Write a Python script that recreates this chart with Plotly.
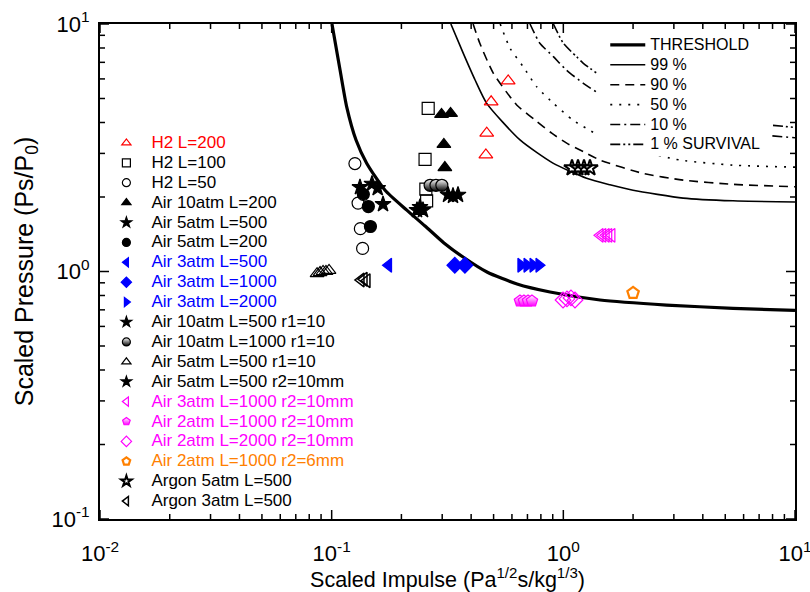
import plotly.graph_objects as go

# ---- survival / threshold curves (scaled impulse, scaled pressure) ----
thr_I = [0.1003, 0.1087, 0.1161, 0.1274, 0.1416, 0.170, 0.211, 0.253, 0.3053, 0.369, 0.468, 0.631, 0.876, 1.44, 2.79, 5.40, 10.0]
thr_P = [10.0, 6.52, 4.63, 3.40, 2.74, 2.13, 1.77, 1.527, 1.304, 1.144, 0.995, 0.890, 0.826, 0.767, 0.732, 0.710, 0.696]

s99_I = [0.327, 0.370, 0.416, 0.467, 0.650, 0.902, 1.26, 1.59, 2.0, 3.29, 5.40, 10.0]
s99_P = [10.0, 7.61, 5.94, 4.78, 3.40, 2.74, 2.38, 2.24, 2.13, 1.98, 1.93, 1.91]

s90_I = [0.408, 0.436, 0.499, 0.629, 0.755, 0.891, 1.034, 1.22, 1.44, 2.21, 3.29, 5.40, 10.0]
s90_P = [10.0, 8.36, 6.32, 4.71, 4.09, 3.62, 3.30, 3.05, 2.82, 2.49, 2.34, 2.25, 2.20]

s50_I = [0.534, 0.589, 0.671, 0.767, 0.906, 1.10, 1.22, 1.6, 2.2, 3.19, 5.40, 10.0]
s50_P = [10.0, 7.98, 6.72, 5.58, 4.78, 4.09, 3.85, 3.35, 3.05, 2.82, 2.69, 2.64]

s10_I = [0.718, 0.792, 0.906, 1.03, 1.22, 1.6, 2.2, 3.2, 5.4, 10.0]
s10_P = [10.0, 8.36, 7.38, 6.52, 5.76, 4.9, 4.3, 3.9, 3.65, 3.47]

s1_I = [0.906, 1.0, 1.14, 1.22, 1.6, 2.2, 3.2, 5.4, 10.0]
s1_P = [10.0, 8.36, 7.38, 6.94, 5.8, 5.0, 4.4, 4.05, 3.82]

curve_names = ["THRESHOLD", "99 %", "90 %", "50 %", "10 %", "1 % SURVIVAL"]

# ---- experimental points ----
h2_200_I = [0.578, 0.488, 0.467, 0.463]
h2_200_P = [5.89, 4.85, 3.62, 2.96]
h2_100_I = [0.261, 0.253, 0.255, 0.257]
h2_100_P = [4.56, 2.84, 2.15, 1.93]
h2_50_I = [0.126, 0.130, 0.133, 0.136]
h2_50_P = [2.73, 1.89, 1.49, 1.24]
air10_200_I = [0.298, 0.326, 0.305, 0.308]
air10_200_P = [4.31, 4.35, 3.26, 2.63]
air5_500_I = [0.1325, 0.1493, 0.158, 0.1666]
air5_500_P = [2.19, 2.26, 2.17, 1.87]
air5_200_I = [0.137, 0.144, 0.147]
air5_200_P = [2.05, 1.83, 1.52]
air3_500_I = [0.176]
air3_500_P = [1.06]
air3_1000_I = [0.340, 0.376]
air3_1000_P = [1.06, 1.06]
air3_2000_I = [0.656, 0.697, 0.740, 0.785]
air3_2000_P = [1.06, 1.06, 1.06, 1.06]
air10_500_r1_I = [0.318, 0.334, 0.351]
air10_500_r1_P = [2.04, 2.02, 2.04]
air10_1000_r1_I = [0.266, 0.282, 0.299]
air10_1000_r1_P = [2.23, 2.23, 2.23]
air5_500_r1_I = [0.0865, 0.0891, 0.0918, 0.0945, 0.0974]
air5_500_r1_P = [0.98, 0.99, 1.0, 1.0, 1.01]
air5_500_r2_I = [0.2335, 0.2406, 0.2478]
air5_500_r2_P = [1.77, 1.82, 1.77]
air3_1000_r2_I = [1.44, 1.48, 1.53, 1.57, 1.62]
air3_1000_r2_P = [1.40, 1.40, 1.40, 1.40, 1.40]
air2_1000_r2_I = [0.650, 0.676, 0.704, 0.732]
air2_1000_r2_P = [0.76, 0.76, 0.76, 0.76]
air2_2000_r2_I = [0.997, 1.037, 1.079, 1.123]
air2_2000_r2_P = [0.767, 0.775, 0.782, 0.767]
air2_1000_r6_I = [2.00]
air2_1000_r6_P = [0.819]
argon5_I = [1.090, 1.157, 1.228, 1.303]
argon5_P = [2.62, 2.62, 2.62, 2.62]
argon3_I = [0.1338, 0.1379, 0.1420]
argon3_P = [0.924, 0.93, 0.918]

# axis ranges (decades) and decade tick labels
x_range_log = [-2, 1]
y_range_log = [-1, 1]
x_decades = [0.01, 0.1, 1, 10]
x_decade_text = ["10<sup>-2</sup>", "10<sup>-1</sup>", "10<sup>0</sup>", "10<sup>1</sup>"]
y_decades = [0.1, 1, 10]
y_decade_text = ["10<sup>-1</sup>", "10<sup>0</sup>", "10<sup>1</sup>"]

RED, BLUE, MAG, ORG, BLK = "#FF0000", "#0000FF", "#FF00FF", "#FF8000", "#000000"

# (label, I, P, symbol, colour, extra marker options)
series = [
    ("H2 L=200", h2_200_I, h2_200_P, "triangle-up-open", RED, {}),
    ("H2 L=100", h2_100_I, h2_100_P, "square-open", BLK, {}),
    ("H2 L=50", h2_50_I, h2_50_P, "circle-open", BLK, {}),
    ("Air 10atm L=200", air10_200_I, air10_200_P, "triangle-up", BLK, {}),
    ("Air 5atm L=500", air5_500_I, air5_500_P, "star", BLK, {}),
    ("Air 5atm L=200", air5_200_I, air5_200_P, "circle", BLK, {}),
    ("Air 3atm L=500", air3_500_I, air3_500_P, "triangle-left", BLUE, {}),
    ("Air 3atm L=1000", air3_1000_I, air3_1000_P, "diamond", BLUE, {}),
    ("Air 3atm L=2000", air3_2000_I, air3_2000_P, "triangle-right", BLUE, {}),
    ("Air 10atm L=500 r1=10", air10_500_r1_I, air10_500_r1_P, "star", BLK, {}),
    ("Air 10atm L=1000 r1=10", air10_1000_r1_I, air10_1000_r1_P, "circle", "#FFFFFF",
     dict(gradient=dict(type="vertical", color=BLK), line=dict(color=BLK, width=1.2))),
    ("Air 5atm L=500 r1=10", air5_500_r1_I, air5_500_r1_P, "triangle-up-open", BLK, {}),
    ("Air 5atm L=500 r2=10mm", air5_500_r2_I, air5_500_r2_P, "star", BLK, {}),
    ("Air 3atm L=1000 r2=10mm", air3_1000_r2_I, air3_1000_r2_P, "triangle-left-open", MAG, {}),
    ("Air 2atm L=1000 r2=10mm", air2_1000_r2_I, air2_1000_r2_P, "pentagon", "#FFFFFF",
     dict(gradient=dict(type="vertical", color=MAG), line=dict(color=MAG, width=1.2))),
    ("Air 2atm L=2000 r2=10mm", air2_2000_r2_I, air2_2000_r2_P, "diamond-open", MAG, {}),
    ("Air 2atm L=1000 r2=6mm", air2_1000_r6_I, air2_1000_r6_P, "pentagon-open", ORG, dict(line=dict(width=2.2))),
    ("Argon 5atm L=500", argon5_I, argon5_P, "star-open", BLK, dict(line=dict(width=2))),
    ("Argon 3atm L=500", argon3_I, argon3_P, "triangle-left-open", BLK, dict(line=dict(width=1.5))),
]

label_colour = {"H2 L=200": RED, "Air 3atm L=500": BLUE, "Air 3atm L=1000": BLUE,
                "Air 3atm L=2000": BLUE, "Air 3atm L=1000 r2=10mm": MAG,
                "Air 2atm L=1000 r2=10mm": MAG, "Air 2atm L=2000 r2=10mm": MAG,
                "Air 2atm L=1000 r2=6mm": ORG}

WIDTH, HEIGHT = 810, 592
MARGIN = dict(l=100, r=15, t=24, b=73)
PX_PER_DEC_X = (WIDTH - MARGIN["l"] - MARGIN["r"]) / (x_range_log[1] - x_range_log[0])
PX_PER_DEC_Y = (HEIGHT - MARGIN["t"] - MARGIN["b"]) / (y_range_log[1] - y_range_log[0])

fig = go.Figure()

# survival curves
curve_styles = [
    (thr_I, thr_P, 3.2, "solid"),
    (s99_I, s99_P, 1.6, "solid"),
    (s90_I, s90_P, 1.6, "9px,6px"),
    (s50_I, s50_P, 1.6, "2px,7px"),
    (s10_I, s10_P, 1.6, "10px,4px,2px,4px"),
    (s1_I, s1_P, 1.6, "10px,3px,2px,3px,2px,3px"),
]
for name, (ci, cp, w, dash) in zip(curve_names, curve_styles):
    fig.add_trace(go.Scatter(
        x=ci, y=cp, mode="lines", name=f"<span style='font-size:16px'>{name}</span>",
        line=dict(color=BLK, width=w, dash=dash, shape="spline", smoothing=0.6),
        legend="legend2", hoverinfo="skip"))


def make_marker(sym, col, extra, size):
    m = dict(symbol=sym, size=size, color=col, line=dict(color=col, width=1.2))
    for k, v in extra.items():
        if k == "line":
            m["line"] = {**m["line"], **v}
        else:
            m[k] = v
    return m


# data points (plotted large) and their legend entries (smaller symbols)
for label, xi, yp, sym, col, extra in series:
    fig.add_trace(go.Scatter(x=xi, y=yp, mode="markers", marker=make_marker(sym, col, extra, 12),
                             showlegend=False, name=label))
    tc = label_colour.get(label, BLK)
    fig.add_trace(go.Scatter(x=[None], y=[None], mode="markers", marker=make_marker(sym, col, extra, 8),
                             name=f"<span style='font-size:17px;fill:{tc}'>{label}</span>",
                             legend="legend"))

# inward tick marks on all four sides of the frame (long at decades, short at 2..9)
MAJOR_LEN, MINOR_LEN = 9, 5


def decade_marks(rng):
    marks = []
    for e in range(rng[0], rng[1] + 1):
        marks.append((10.0 ** e, MAJOR_LEN))
        if e < rng[1]:
            marks += [(k * 10.0 ** e, MINOR_LEN) for k in range(2, 10)]
    return marks


ylo, yhi = 10.0 ** y_range_log[0], 10.0 ** y_range_log[1]
xlo, xhi = 10.0 ** x_range_log[0], 10.0 ** x_range_log[1]
tx, ty = [], []
for v, ln in decade_marks(x_range_log):
    f = 10.0 ** (ln / PX_PER_DEC_Y)
    tx += [v, v, None, v, v, None]
    ty += [ylo, ylo * f, None, yhi / f, yhi, None]
for v, ln in decade_marks(y_range_log):
    f = 10.0 ** (ln / PX_PER_DEC_X)
    tx += [xlo, xlo * f, None, xhi / f, xhi, None]
    ty += [v, v, None, v, v, None]
fig.add_trace(go.Scatter(x=tx, y=ty, mode="lines", line=dict(color=BLK, width=1.5),
                         showlegend=False, hoverinfo="skip", connectgaps=False))

# white panel behind the curve legend
legend_panel = dict(type="rect", xref="paper", yref="paper", x0=0.715, x1=0.967, y0=0.733, y1=0.982,
                    fillcolor="white", line=dict(width=0), layer="above")

axis_common = dict(
    type="log", tickmode="array", showline=True, linewidth=2, automargin=False,
    linecolor=BLK, mirror=True, ticks="", showgrid=False, zeroline=False,
    tickfont=dict(family="Liberation Sans, Arial", size=22, color=BLK),
)

fig.update_layout(
    width=WIDTH, height=HEIGHT,
    margin=MARGIN,
    paper_bgcolor="white", plot_bgcolor="white",
    font=dict(family="Liberation Sans, Arial", color=BLK),
    xaxis=dict(axis_common, range=x_range_log, tickvals=x_decades, ticktext=x_decade_text,
               ticklabelstandoff=14, ticklabeloverflow="allow",
               title=dict(text="Scaled Impulse (Pa<sup>1/2</sup>s/kg<sup>1/3</sup>)",
                          font=dict(family="Liberation Sans, Arial", size=21.5),
                          standoff=13)),
    yaxis=dict(axis_common, range=y_range_log, tickvals=y_decades, ticktext=y_decade_text,
               ticklabelstandoff=4, ticklabeloverflow="allow",
               title=dict(text="Scaled Pressure (Ps/P<sub>0</sub>)",
                          font=dict(family="Liberation Sans, Arial", size=25),
                          standoff=11)),
    legend=dict(x=0.002, y=0.79, xanchor="left", yanchor="top", bgcolor="rgba(0,0,0,0)",
                font=dict(size=13, color=BLK), tracegroupgap=0, itemclick=False, itemwidth=40),
    legend2=dict(x=0.727, y=0.988, xanchor="left", yanchor="top", bgcolor="rgba(0,0,0,0)",
                 font=dict(size=13, color=BLK), tracegroupgap=0, itemclick=False, itemwidth=35),
    shapes=[legend_panel],
    showlegend=True,
)

fig.write_html("out.html")
